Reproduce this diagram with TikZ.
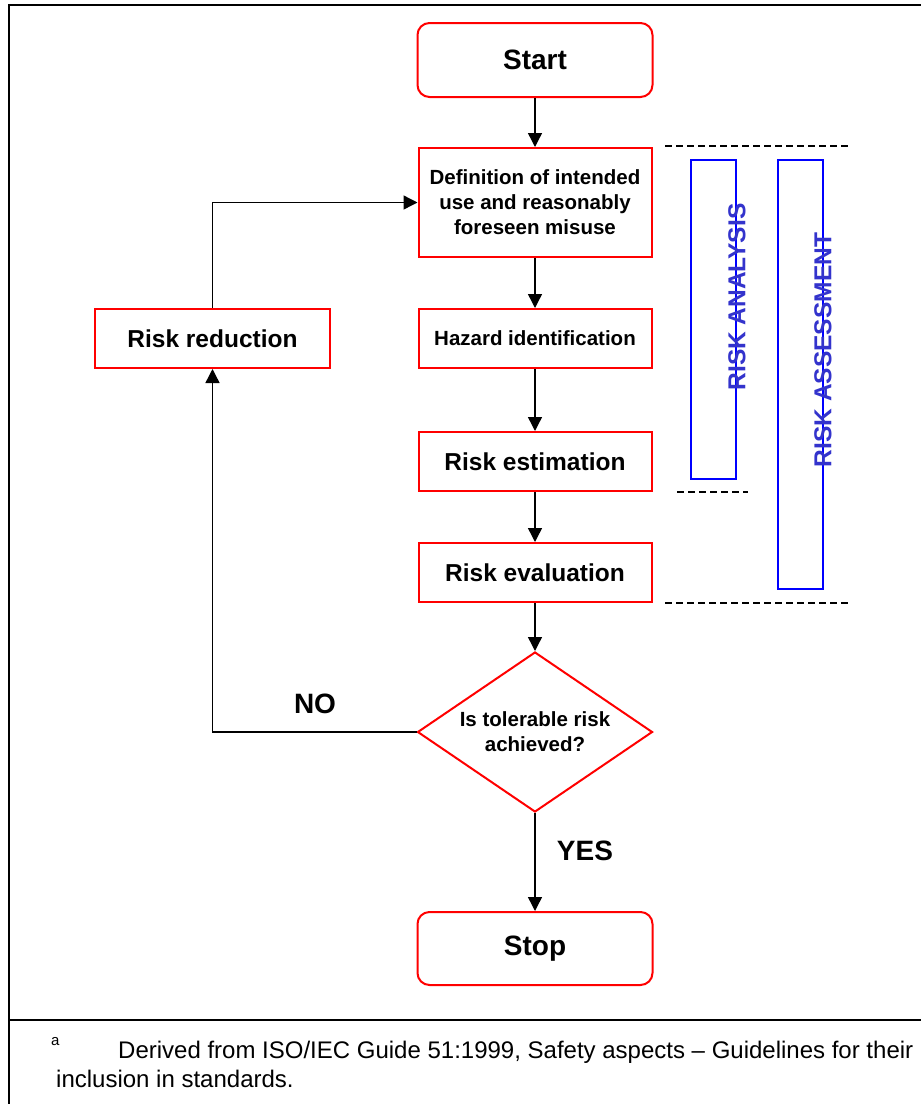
\documentclass[tikz,border=0pt]{standalone}
\usepackage{fontspec}
\setmainfont{Liberation Sans}
\usetikzlibrary{shapes.geometric,arrows.meta}
\definecolor{boxred}{RGB}{255,0,0}
\definecolor{boxblue}{RGB}{0,0,255}
\definecolor{txtblue}{RGB}{51,51,204}
\begin{document}
\begin{tikzpicture}[x=1pt,y=-1pt,
  redbox/.style={draw=boxred,line width=2pt,rectangle,minimum width=233pt,align=center,inner sep=0pt},
  roundbox/.style={redbox,rounded corners=12pt,minimum width=235pt,minimum height=74pt,font=\fontsize{28}{32}\selectfont\bfseries},
  midtext/.style={font=\fontsize{20.5}{25}\selectfont\bfseries},
  bigtext/.style={font=\fontsize{24.5}{28}\selectfont\bfseries},
  decision/.style={draw=boxred,line width=2pt,diamond,aspect=1.47,minimum width=235pt,minimum height=160pt,inner sep=0pt,align=center,font=\fontsize{20.5}{25}\selectfont\bfseries},
  flow/.style={line width=1.4pt,-{Triangle[width=14pt,length=14pt]}},
  sep/.style={line width=1.2pt,dash pattern=on 7pt off 4pt},
  bluebox/.style={draw=boxblue,line width=1.8pt,rectangle,inner sep=0pt,minimum width=45pt},
  bluetext/.style={text=txtblue,rotate=90,font=\fontsize{24.5}{28}\selectfont\bfseries,inner sep=0pt},
  lbl/.style={font=\fontsize{28}{32}\selectfont\bfseries,inner sep=0pt},
  foot/.style={font=\fontsize{24}{29}\selectfont,inner sep=0pt,anchor=base west}
]
\useasboundingbox (0,0) rectangle (921,1104);
% frame
\draw[line width=2.6pt] (921,5) -- (9,5) -- (9,1104);
\draw[line width=2.6pt] (9,1020) -- (921,1020);

% nodes
\node[roundbox] (start) at (535,60) {Start};
\node[redbox,midtext,minimum height=109pt] (def) at (535,202.5) {Definition of intended\\use and reasonably\\foreseen misuse};
\node[redbox,midtext,minimum height=59pt] (haz) at (535,338.5) {Hazard identification};
\node[redbox,bigtext,minimum height=59pt] (est) at (535,461.5) {Risk estimation};
\node[redbox,bigtext,minimum height=59pt] (eval) at (535,572.5) {Risk evaluation};
\node[decision] (dec) at (535,732) {Is tolerable risk\\achieved?};
\node[roundbox,minimum height=73pt] (stop) at (535,948.5) {Stop};
\node[redbox,bigtext,minimum width=235pt,minimum height=59pt] (red) at (212.5,338.5) {Risk reduction};

% connectors
\draw[flow] (start) -- (def);
\draw[flow] (def) -- (haz);
\draw[flow] (haz) -- (est);
\draw[flow] (est) -- (eval);
\draw[flow] (eval) -- (dec);
\draw[flow] (dec) -- (stop);
\draw[flow] (red.north) |- (def.west);
\draw[flow] (dec.west) -| (red.south);

% labels
\node[lbl] (no) at (315,704) {NO};
\node[lbl] (yes) at (585,851) {YES};

% separators
\coordinate (s1a) at (665,146); \coordinate (s1b) at (850,146);
\coordinate (s2a) at (677,492); \coordinate (s2b) at (748,492);
\coordinate (s3a) at (665,603); \coordinate (s3b) at (850,603);
\draw[sep] (s1a) -- (s1b);
\draw[sep] (s2a) -- (s2b);
\draw[sep] (s3a) -- (s3b);

% blue boxes
\node[bluebox,minimum height=319pt] (ana) at (713.5,319.5) {};
\node[bluebox,minimum height=429pt] (ass) at (800.5,374.5) {};
\node[bluetext] (anat) at (737,297) {RISK ANALYSIS};
\node[bluetext] (asst) at (823,350) {RISK ASSESSMENT};

% footnote
\node[foot,font=\fontsize{15}{17}\selectfont] (fa) at (51,1045) {a};
\node[foot] (f1) at (118,1058) {Derived from ISO/IEC Guide 51:1999, Safety aspects – Guidelines for their};
\node[foot] (f2) at (56,1087) {inclusion in standards.};
\end{tikzpicture}
\end{document}
